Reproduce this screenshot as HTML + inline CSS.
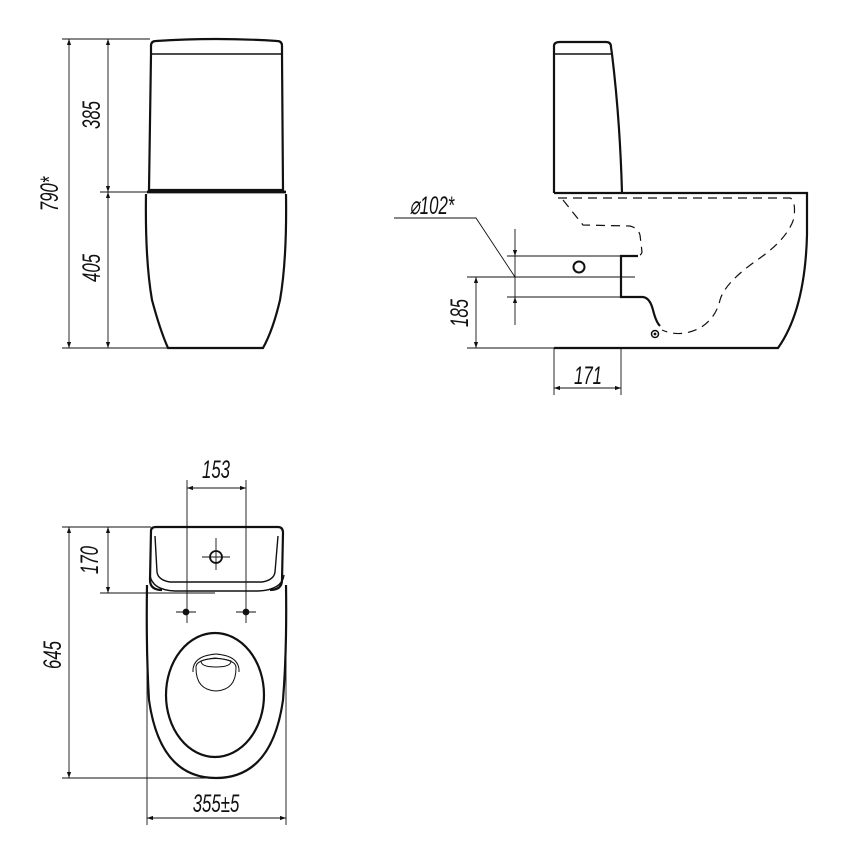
<!DOCTYPE html>
<html><head><meta charset="utf-8"><style>
html,body{margin:0;padding:0;background:#fff}
svg{display:block}
text{font-family:"Liberation Sans Narrow","Liberation Sans",sans-serif;font-style:italic;font-size:21px;fill:#111}
</style></head><body>
<svg width="843" height="866" viewBox="0 0 843 866" xmlns="http://www.w3.org/2000/svg">
<defs>
<marker id="a" viewBox="0 0 10 10" refX="10" refY="5" markerWidth="12" markerHeight="6" markerUnits="userSpaceOnUse" orient="auto-start-reverse"><path d="M0,1.5 L10,5 L0,8.5 z" fill="#111"/></marker>
</defs>
<g fill="none" stroke="#111">
<!-- FRONT VIEW -->
<g stroke-width="2.2">
<path d="M151,46 Q151,41 156,41 Q216,37 277,41 Q282,41 282,46 L282,54"/>
<path d="M151,46 L151,54"/>
<path d="M151,54 L282,54" stroke-width="1.6"/>
<path d="M151,54 L149,190 L283,190 L282,54"/>
<path d="M147,192 L286,192" stroke-width="2.8"/>
<path d="M146,194 Q145,260 152,300 Q160,330 168,348 L263,348 Q273,330 280,300 Q287,260 286,194"/>
</g>
<g stroke-width="0.9">
<line x1="62" y1="39" x2="150" y2="39"/>
<line x1="100" y1="192" x2="148" y2="192"/>
<line x1="62" y1="348" x2="168" y2="348"/>
<line x1="69" y1="39" x2="69" y2="348" marker-start="url(#a)" marker-end="url(#a)"/>
<line x1="108" y1="39" x2="108" y2="192" marker-start="url(#a)" marker-end="url(#a)"/>
<line x1="108" y1="192" x2="108" y2="348" marker-start="url(#a)" marker-end="url(#a)"/>
</g>
<!-- SIDE VIEW -->
<g stroke-width="2.2">
<path d="M554,193 L554,46 Q554,42 560,42 L606,42 Q611,42 611,47 L612,54"/>
<path d="M554,54 L612,54" stroke-width="1.6"/>
<path d="M612,54 Q620,120 622,193"/>
<path d="M554,193 L807,193 L807,235 Q805,310 778,348 L554,348"/>
<path d="M638,256 L621,256 L621,297 L643,297 Q650,298 653,310 Q656,322 660,326"/>
</g>
<circle cx="579" cy="267" r="5.5" stroke-width="2"/>
<circle cx="655" cy="334" r="3.5" stroke-width="1.5"/>
<circle cx="655" cy="334" r="1.4" fill="#111" stroke="none"/>
<g stroke-width="1.2" stroke-dasharray="9,6">
<path d="M558,198 L790,198 Q796,200 794,218 Q788,238 760,258 Q725,282 720,300 Q716,318 700,328 Q680,338 662,330"/>
<path d="M563,200 L583,225 L630,226 Q638,228 640,235 L642,252 Q641,256 637,256"/>
</g>
<g stroke-width="0.9">
<line x1="507" y1="256" x2="636" y2="256"/>
<line x1="467" y1="277" x2="635" y2="277"/>
<line x1="507" y1="297" x2="621" y2="297"/>
<line x1="467" y1="348" x2="554" y2="348"/>
<line x1="515" y1="229" x2="515" y2="256" marker-end="url(#a)"/>
<line x1="515" y1="325" x2="515" y2="297" marker-end="url(#a)"/>
<line x1="515" y1="256" x2="515" y2="297"/>
<line x1="476" y1="277" x2="476" y2="348" marker-start="url(#a)" marker-end="url(#a)"/>
<polyline points="394,218 476,218 515,277"/>
<line x1="554" y1="348" x2="554" y2="395"/>
<line x1="621" y1="348" x2="621" y2="395"/>
<line x1="554" y1="388" x2="621" y2="388" marker-start="url(#a)" marker-end="url(#a)"/>
</g>
<!-- TOP VIEW -->
<g stroke-width="2.2">
<path d="M151,531 Q151,527 156,527 L278,527 Q283,527 283,533 L282,580 Q282,590 270,590"/>
<path d="M151,531 L150,580 Q150,590 162,590"/>
<path d="M147,585 Q146,650 149,700 Q160,778 216,778 Q272,778 283,700 Q287,650 286,585"/>
<ellipse cx="215" cy="695" rx="49" ry="62"/>
</g>
<g stroke-width="1.4">
<path d="M155,536 L157,572 Q158,580 170,582 L262,582 Q274,580 275,572 L278,536"/>
<path d="M150,575 Q152,590 175,591 L258,591 Q282,590 284,575"/>
</g>
<g stroke-width="1">
<path d="M196,668 Q195,660 215,658 Q237,660 236,668 Q236,690 216,691 Q196,690 196,668 Z"/>
<path d="M201,661 Q216,656 231,661 Q231,667 216,667 Q201,667 201,661Z"/>
<path d="M193,672 Q192,656 216,654 Q240,656 239,672"/>
</g>
<circle cx="216" cy="557" r="6" stroke-width="1.8"/>
<circle cx="186" cy="612" r="3" fill="#111" stroke-width="0.8"/>
<circle cx="246" cy="612" r="3" fill="#111" stroke-width="0.8"/>
<g stroke-width="0.9">
<line x1="202" y1="557" x2="230" y2="557"/>
<line x1="216" y1="538" x2="216" y2="570"/>
<line x1="176" y1="612" x2="196" y2="612"/>
<line x1="236" y1="612" x2="256" y2="612"/>
<line x1="187" y1="480" x2="187" y2="623"/>
<line x1="246" y1="480" x2="246" y2="623"/>
<line x1="187" y1="488" x2="246" y2="488" marker-start="url(#a)" marker-end="url(#a)"/>
<line x1="62" y1="527" x2="151" y2="527"/>
<line x1="100" y1="593" x2="215" y2="593"/>
<line x1="62" y1="778" x2="216" y2="778"/>
<line x1="108" y1="527" x2="108" y2="593" marker-start="url(#a)" marker-end="url(#a)"/>
<line x1="69" y1="527" x2="69" y2="778" marker-start="url(#a)" marker-end="url(#a)"/>
<line x1="147" y1="590" x2="147" y2="825"/>
<line x1="286" y1="590" x2="286" y2="825"/>
<line x1="147" y1="818" x2="286" y2="818" marker-start="url(#a)" marker-end="url(#a)"/>
</g>
</g>
<text transform="translate(58,194) rotate(-90) scale(0.8,1.2)" text-anchor="middle">790*</text>
<text transform="translate(100,115) rotate(-90) scale(0.8,1.2)" text-anchor="middle">385</text>
<text transform="translate(100,268) rotate(-90) scale(0.8,1.2)" text-anchor="middle">405</text>
<text transform="translate(432,214) scale(0.8,1.2)" text-anchor="middle">⌀102*</text>
<text transform="translate(468,313) rotate(-90) scale(0.8,1.2)" text-anchor="middle">185</text>
<text transform="translate(588,384) scale(0.8,1.2)" text-anchor="middle">171</text>
<text transform="translate(216,478) scale(0.8,1.2)" text-anchor="middle">153</text>
<text transform="translate(98,560) rotate(-90) scale(0.8,1.2)" text-anchor="middle">170</text>
<text transform="translate(61,655) rotate(-90) scale(0.8,1.2)" text-anchor="middle">645</text>
<text transform="translate(216,812) scale(0.8,1.2)" text-anchor="middle">355±5</text>
</svg>
</body></html>
